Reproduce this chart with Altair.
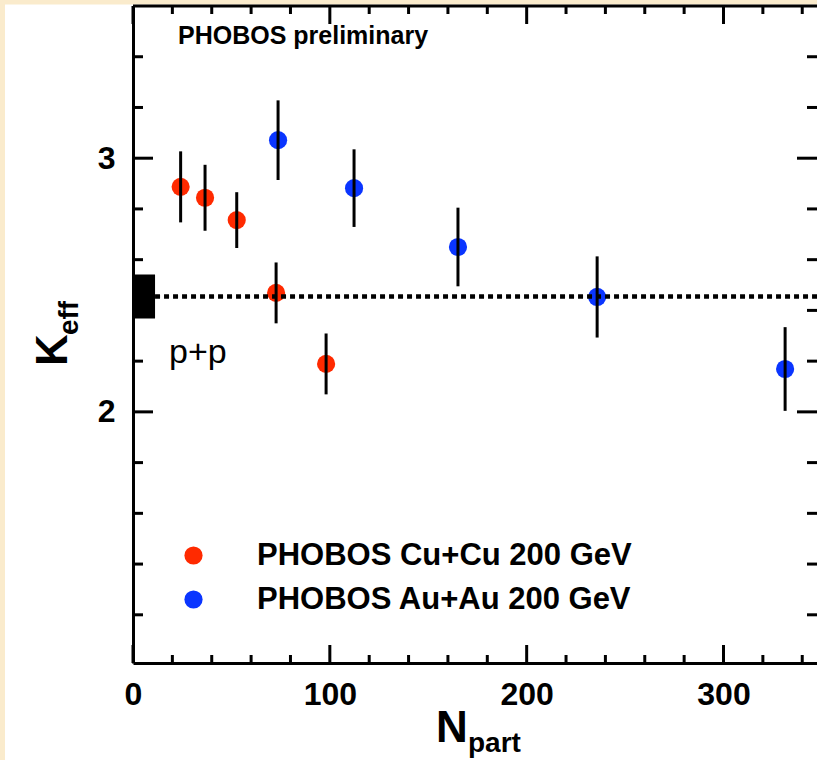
import altair as alt
import pandas as pd

# ---------------- data ----------------
cu_label = "PHOBOS Cu+Cu 200 GeV"
au_label = "PHOBOS Au+Au 200 GeV"

cu_npart = [24.2, 36.6, 52.7, 72.7, 98.1]
cu_keff = [2.887, 2.844, 2.756, 2.469, 2.189]
cu_err = [0.140, 0.130, 0.110, 0.120, 0.120]

au_npart = [73.7, 112.3, 165.1, 235.8, 331.3]
au_keff = [3.071, 2.882, 2.650, 2.453, 2.169]
au_err = [0.157, 0.153, 0.155, 0.160, 0.165]

pp_keff = 2.455
pp_syst = 0.087
pp_box_npart = [0.0, 11.2]

x_major = [0, 100, 200, 300]
x_minor = [20, 40, 60, 80, 120, 140, 160, 180, 220, 240, 260, 280, 320, 340]
y_major = [2, 3]
y_minor = [1.2, 1.4, 1.6, 1.8, 2.2, 2.4, 2.6, 2.8, 3.2, 3.4]

x_domain = [0, 347.5]
y_domain = [1.01, 3.6]

RED = "#ff2a00"
BLUE = "#0a35ff"
BEIGE = "#faebcc"
FONT = "Liberation Sans"

W, H = 684, 657

# ---------------- tables ----------------
pts = pd.DataFrame({
    "npart": cu_npart + au_npart,
    "keff": cu_keff + au_keff,
    "err": cu_err + au_err,
    "series": [cu_label] * len(cu_npart) + [au_label] * len(au_npart),
})
pts["lo"] = pts["keff"] - pts["err"]
pts["hi"] = pts["keff"] + pts["err"]

xs = alt.Scale(domain=x_domain, nice=False, zero=False)
ys = alt.Scale(domain=y_domain, nice=False, zero=False)

XAX = alt.Axis(values=x_major, format="d", ticks=False, grid=False, title=None,
               domain=True, domainColor="black", domainWidth=3, labelFlush=False,
               labelFont=FONT, labelFontSize=32, labelFontWeight="bold",
               labelColor="black", labelPadding=16)
YAX = alt.Axis(values=y_major, format="d", ticks=False, grid=False, title=None,
               domain=True, domainColor="black", domainWidth=3, labelFlush=False,
               labelFont=FONT, labelFontSize=32, labelFontWeight="bold",
               labelColor="black", labelPadding=18)

one = alt.Data(values=[{}])

# beige frame strips (chart background is white)
strip_left = alt.Chart(one).mark_rect(color=BEIGE).encode(
    x=alt.value(-140), x2=alt.value(-128), y=alt.value(-10), y2=alt.value(H + 110)
)
strip_top = alt.Chart(one).mark_rect(color=BEIGE).encode(
    x=alt.value(-140), x2=alt.value(W + 10), y=alt.value(-10), y2=alt.value(-1.5)
)

# p+p systematic box
box_df = pd.DataFrame({"x0": [pp_box_npart[0]], "x1": [pp_box_npart[1]],
                       "y0": [pp_keff - pp_syst], "y1": [pp_keff + pp_syst]})
box = alt.Chart(box_df).mark_rect(color="black").encode(
    x=alt.X("x0:Q", scale=xs, title=None), x2="x1:Q",
    y=alt.Y("y0:Q", scale=ys, title=None), y2="y1:Q",
)

# dotted p+p reference line
line_df = pd.DataFrame({"x0": [pp_box_npart[1]], "x1": [x_domain[1]], "y": [pp_keff]})
ppline = alt.Chart(line_df).mark_rule(color="black", strokeWidth=4.5, strokeDash=[5, 4]).encode(
    x=alt.X("x0:Q", scale=xs, title=None), x2="x1:Q", y=alt.Y("y:Q", scale=ys, title=None)
)

# error bars
ebars = alt.Chart(pts).mark_rule(color="black", strokeWidth=3).encode(
    x=alt.X("npart:Q", scale=xs, title=None), y=alt.Y("lo:Q", scale=ys, title=None), y2="hi:Q"
)

# points
points = alt.Chart(pts).mark_point(filled=True, shape="circle", size=330, opacity=1).encode(
    x=alt.X("npart:Q", scale=xs, axis=XAX),
    y=alt.Y("keff:Q", scale=ys, axis=YAX),
    color=alt.Color("series:N",
                    scale=alt.Scale(domain=[cu_label, au_label], range=[RED, BLUE]),
                    legend=alt.Legend(orient="none", legendX=45, legendY=534, title=None,
                                      symbolType="circle", symbolSize=330, symbolStrokeWidth=0,
                                      labelFont=FONT, labelFontSize=31, labelFontWeight="bold",
                                      labelColor="black", labelOffset=48, rowPadding=12,
                                      labelLimit=800, padding=0)),
)

top_frame = alt.Chart(one).mark_rule(color="black", strokeWidth=3).encode(
    x=alt.value(0), x2=alt.value(W), y=alt.value(0)
)

# text annotations
prelim = alt.Chart(one).mark_text(text="PHOBOS preliminary", font=FONT, fontSize=25,
                                  fontWeight="bold", align="left", baseline="alphabetic",
                                  color="black").encode(x=alt.value(45), y=alt.value(38))
pptext = alt.Chart(one).mark_text(text="p+p", font=FONT, fontSize=34, align="left",
                                  baseline="alphabetic", color="black").encode(
    x=alt.value(36), y=alt.value(357))

k_main = alt.Chart(one).mark_text(text="K", font=FONT, fontSize=44, fontWeight="bold",
                                  angle=270, align="center", baseline="alphabetic",
                                  color="black").encode(x=alt.value(-66), y=alt.value(344))
k_sub = alt.Chart(one).mark_text(text="eff", font=FONT, fontSize=28, fontWeight="bold",
                                 angle=270, align="center", baseline="alphabetic",
                                 color="black").encode(x=alt.value(-55), y=alt.value(312))

n_main = alt.Chart(one).mark_text(text="N", font=FONT, fontSize=44, fontWeight="bold",
                                  align="left", baseline="alphabetic",
                                  color="black").encode(x=alt.value(303), y=alt.value(736))
n_sub = alt.Chart(one).mark_text(text="part", font=FONT, fontSize=28, fontWeight="bold",
                                 align="left", baseline="alphabetic",
                                 color="black").encode(x=alt.value(335), y=alt.value(746))

base = alt.layer(
    strip_left, strip_top, points, box, ppline, ebars,
    top_frame, prelim, pptext, k_main, k_sub, n_main, n_sub,
)

# inward ticks on all four sides (own axes disabled, scales shared)
tick_layers = []
for vals, length in ((x_major, 18), (x_minor, 8)):
    df = pd.DataFrame({"tx": vals})
    for y0, y1 in ((H, H - length), (0, length)):
        tick_layers.append(
            alt.Chart(df).mark_rule(color="black", strokeWidth=3).encode(
                x=alt.X("tx:Q", scale=xs, axis=None),
                y=alt.value(y0), y2=alt.value(y1)))
for vals, length in ((y_major, 20), (y_minor, 10)):
    df = pd.DataFrame({"ty": vals})
    for x0, x1 in ((0, length), (W, W - length)):
        tick_layers.append(
            alt.Chart(df).mark_rule(color="black", strokeWidth=3).encode(
                y=alt.Y("ty:Q", scale=ys, axis=None),
                x=alt.value(x0), x2=alt.value(x1)))
ticks = alt.layer(*tick_layers)

chart = alt.layer(base, ticks).resolve_axis(x="independent", y="independent").properties(
    width=W, height=H, background="white",
    padding={"left": 133, "top": 6, "right": 0, "bottom": 97},
    autosize=alt.AutoSizeParams(type="none"),
).configure_view(stroke=None)

chart.save("out.html", embed_options={"renderer": "svg", "actions": False})
